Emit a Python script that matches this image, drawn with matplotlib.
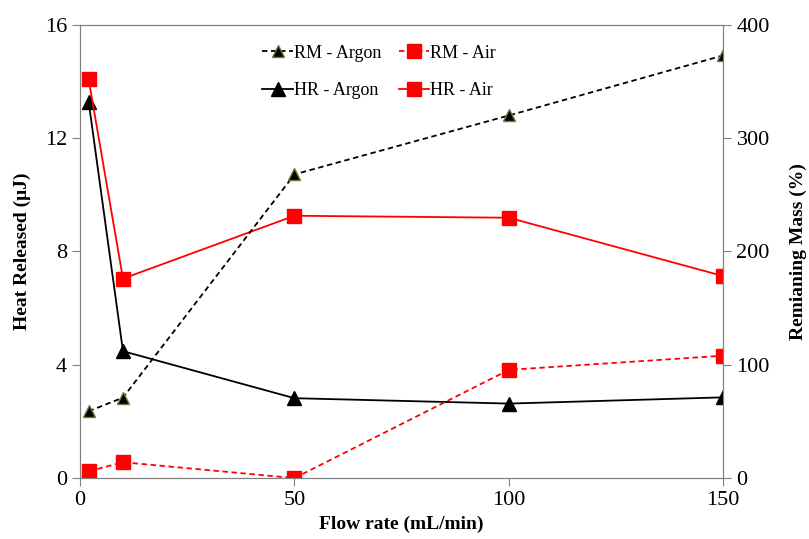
import matplotlib.pyplot as plt

flow_rate = [2, 10, 50, 100, 150]
hr_argon = [13.28, 4.48, 2.82, 2.63, 2.85]
hr_air = [14.07, 7.04, 9.26, 9.19, 7.13]
rm_argon = [59, 71, 268, 320, 373]
rm_air = [6, 14, 0, 95.5, 108]

plt.rcParams['font.family'] = ['Liberation Serif', 'DejaVu Serif']
grey = '#808080'

fig = plt.figure(figsize=(8.09, 5.39), dpi=100)
ax = fig.add_axes([0.099, 0.113, 0.795, 0.841])
ax2 = ax.twinx()

l_hr_argon, = ax.plot(flow_rate, hr_argon, color='black', lw=1.3, marker='^',
                      ms=10, mfc='black', mec='black', label='HR - Argon')
l_hr_air, = ax.plot(flow_rate, hr_air, color='red', lw=1.3, marker='s',
                    ms=10, mfc='red', mec='red', label='HR - Air')
l_rm_argon, = ax2.plot(flow_rate, rm_argon, color='black', lw=1.3, ls=(0, (3, 2)),
                       marker='^', ms=8, mfc='black', mec='#6b7d3a',
                       label='RM - Argon')
l_rm_air, = ax2.plot(flow_rate, rm_air, color='red', lw=1.3, ls=(0, (3, 2)),
                     marker='s', ms=10, mfc='red', mec='red', label='RM - Air')

ax.set_xlim(0, 150)
ax.set_ylim(0, 16)
ax2.set_ylim(0, 400)
ax.set_xticks([0, 50, 100, 150])
ax.set_yticks([0, 4, 8, 12, 16])
ax2.set_yticks([0, 100, 200, 300, 400])

for a in (ax, ax2):
    for s in a.spines.values():
        s.set_color(grey)
    a.tick_params(colors=grey, labelcolor='black', labelsize=16, direction='out',
                  length=6)

ax.set_xlabel('Flow rate (mL/min)', fontsize=14, fontweight='bold', labelpad=4)
ax.set_ylabel('Heat Released (μJ)', fontsize=14, fontweight='bold', labelpad=10)
ax2.set_ylabel('Remianing Mass (%)', fontsize=14, fontweight='bold', labelpad=14)

ax.legend(handles=[l_rm_argon, l_hr_argon, l_rm_air, l_hr_air], ncol=2,
          loc='upper center', bbox_to_anchor=(0.465, 1.0), frameon=False,
          fontsize=13, handlelength=1.7, handletextpad=0.05, columnspacing=0.95,
          labelspacing=1.15, borderaxespad=0.7)

fig.savefig('out.png', dpi=100)
